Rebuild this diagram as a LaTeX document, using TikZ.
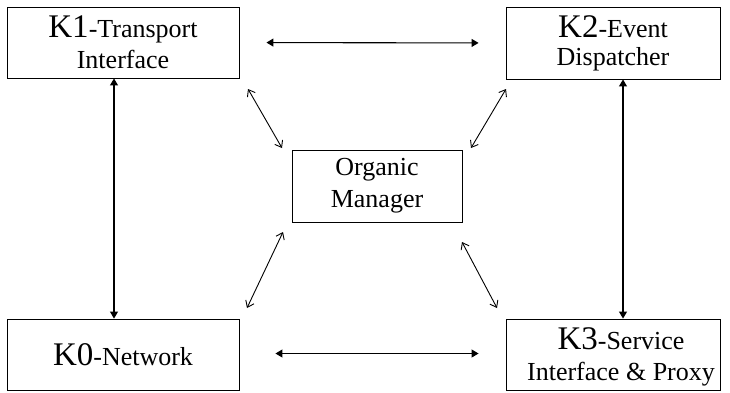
\documentclass[tikz,border=0pt]{standalone}
\usepackage{fontspec}
\setmainfont{Liberation Serif}
\usetikzlibrary{arrows.meta}

% larger K numbers in the layer names
\newcommand{\klabel}[1]{{\fontsize{33}{36}\selectfont #1}}

\begin{document}
\begin{tikzpicture}[x=1pt,y=-1pt,
    box/.style={draw,line width=0.9pt,inner sep=0pt,align=center,
        font=\fontsize{26}{31}\selectfont},
    link/.style={{Triangle[length=7pt,width=8pt]}-{Triangle[length=7pt,width=8pt]},line width=1.1pt},
    side/.style={{Straight Barb[length=6pt,width=9pt]}-{Straight Barb[length=6pt,width=9pt]},line width=0.9pt}]
    \useasboundingbox (0,0) rectangle (730,392);

    % layers
    \node[box,minimum width=232pt,minimum height=71pt] (k1) at (123,42.5)
        {\klabel{K1}-Transport\\ Interface};
    \node[box,minimum width=214pt,minimum height=72pt] (k2) at (613,43)
        {\klabel{K2}-Event\\[-3pt] Dispatcher};
    \node[box,minimum width=232pt,minimum height=71pt] (k0) at (123,354.5)
        {\klabel{K0}-Network};
    \node[box,minimum width=214pt,minimum height=71pt] (k3) at (613,354.5) {};
    \node[align=center,inner sep=0pt,font=\fontsize{26}{31}\selectfont] (k3text) at (621,357)
        {\klabel{K3}-Service\\ Interface \& Proxy};
    \node[box,minimum width=170pt,minimum height=72pt] (om) at (377,186)
        {Organic\\[1pt] Manager};

    % links between the layers
    \draw[link,shorten <=27pt,shorten >=27pt] (k1.east) -- (k2.west);
    \draw[link,shorten <=36pt,shorten >=27pt] ([yshift=1pt]k0.east) -- ([yshift=1pt]k3.west);
    \draw[link] ([xshift=-9pt]k1.south) -- ([xshift=-9pt]k0.north);
    \draw[link] ([xshift=10pt]k2.south) -- ([xshift=10pt]k3.north);

    % links to the manager
    \coordinate (m1a) at (248,89);
    \coordinate (m1b) at (282,148);
    \coordinate (m2a) at (506,89);
    \coordinate (m2b) at (471,148);
    \coordinate (m0a) at (283,232);
    \coordinate (m0b) at (247,308);
    \coordinate (m3a) at (462,242);
    \coordinate (m3b) at (497,308);
    \draw[side] (m1a) -- (m1b);
    \draw[side] (m2a) -- (m2b);
    \draw[side] (m0a) -- (m0b);
    \draw[side] (m3a) -- (m3b);
\end{tikzpicture}
\end{document}
